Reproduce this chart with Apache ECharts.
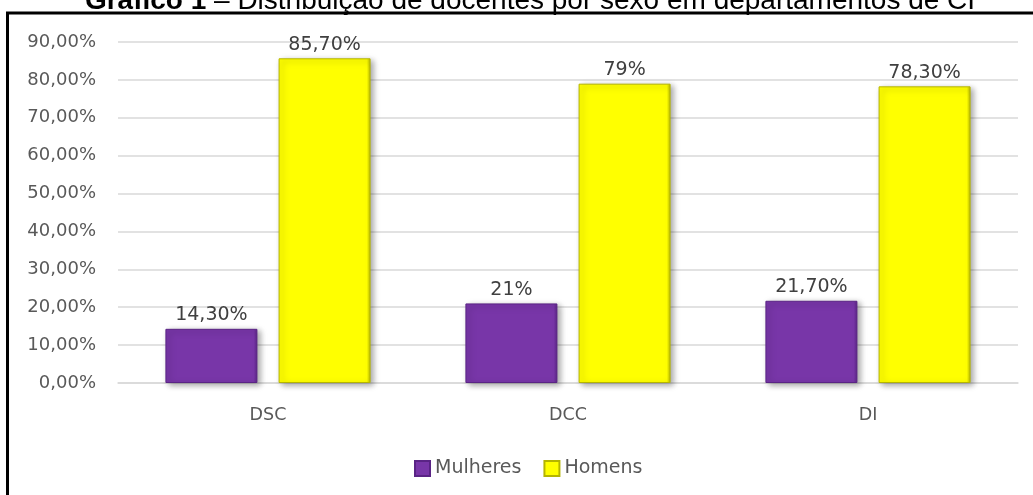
<!DOCTYPE html>
<html>
<head>
<meta charset="utf-8">
<script src="https://cdn.jsdelivr.net/npm/echarts@6/dist/echarts.min.js"></script>
<style>
  html, body { margin: 0; padding: 0; background: #fff; }
  #chart { width: 1033px; height: 495px; }
</style>
</head>
<body>
<div id="chart"></div>
<script>
// Docentes por sexo em cada departamento (%)
const departamentos = ['DSC', 'DCC', 'DI'];
const mulheres = [14.3, 21, 21.7];
const homens = [85.7, 79, 78.3];
const yTicks = [0, 10, 20, 30, 40, 50, 60, 70, 80, 90];

const FONT = '"DejaVu Sans", sans-serif';
const TEXT = '#595959';

function pct(v) {
  return (Number.isInteger(v) ? String(v) : v.toFixed(2).replace('.', ',')) + '%';
}

const chart = echarts.init(document.getElementById('chart'), null, { renderer: 'canvas' });

function barStyle(mid, edge) {
  return {
    color: new echarts.graphic.LinearGradient(0, 0, 1, 0, [
      { offset: 0, color: mid },
      { offset: 0.96, color: mid },
      { offset: 1, color: edge }
    ]),
    borderColor: edge,
    borderWidth: 1,
    shadowBlur: 6,
    shadowOffsetX: 3,
    shadowOffsetY: 2,
    shadowColor: 'rgba(0,0,0,0.35)'
  };
}

const labelCfg = {
  show: true,
  position: 'top',
  distance: 4,
  color: '#404040',
  fontFamily: FONT,
  fontSize: 19,
  formatter: p => pct(p.value)
};

chart.setOption({
  animation: false,
  graphic: [
    {
      type: 'rect',
      shape: { x: 7.5, y: 13, width: 1040, height: 500 },
      style: { fill: 'none', stroke: '#000', lineWidth: 3 },
      silent: true
    },
    {
      type: 'text',
      x: 530,
      y: 15,
      style: {
        text: '{b|Gráfico 1} – Distribuição de docentes por sexo em departamentos de CI',
        align: 'center',
        verticalAlign: 'bottom',
        fontFamily: '"Liberation Sans", Arial, sans-serif',
        fontSize: 28,
        fill: '#000',
        rich: {
          b: { fontWeight: 'bold', fontFamily: '"Liberation Sans", Arial, sans-serif', fontSize: 28, fill: '#000' }
        }
      },
      silent: true
    }
  ],
  grid: { left: 118, right: 15, top: 42, bottom: 112 },
  legend: {
    data: ['Mulheres', 'Homens'],
    left: 414,
    top: 459,
    padding: 0,
    itemWidth: 15,
    itemHeight: 15,
    itemGap: 22,
    icon: 'rect',
    textStyle: { color: TEXT, fontFamily: FONT, fontSize: 19 }
  },
  xAxis: {
    type: 'category',
    data: departamentos,
    axisLine: { lineStyle: { color: '#d9d9d9', width: 1.5 } },
    axisTick: { show: false },
    axisLabel: { color: TEXT, fontFamily: FONT, fontSize: 17.5, margin: 23 }
  },
  yAxis: {
    type: 'value',
    min: yTicks[0],
    max: yTicks[yTicks.length - 1],
    interval: 10,
    axisLine: { show: false },
    axisTick: { show: false },
    splitLine: { lineStyle: { color: '#d9d9d9', width: 1.5 } },
    axisLabel: {
      color: TEXT,
      fontFamily: FONT,
      fontSize: 18,
      margin: 22,
      formatter: v => v.toFixed(2).replace('.', ',') + '%'
    }
  },
  series: [
    {
      name: 'Mulheres',
      type: 'bar',
      data: mulheres,
      barWidth: 92,
      barGap: '23%',
      itemStyle: barStyle('#7836a8', '#5a2485'),
      label: labelCfg
    },
    {
      name: 'Homens',
      type: 'bar',
      data: homens,
      barWidth: 92,
      itemStyle: barStyle('#ffff00', '#b5b500'),
      label: labelCfg
    }
  ]
});
</script>
</body>
</html>
